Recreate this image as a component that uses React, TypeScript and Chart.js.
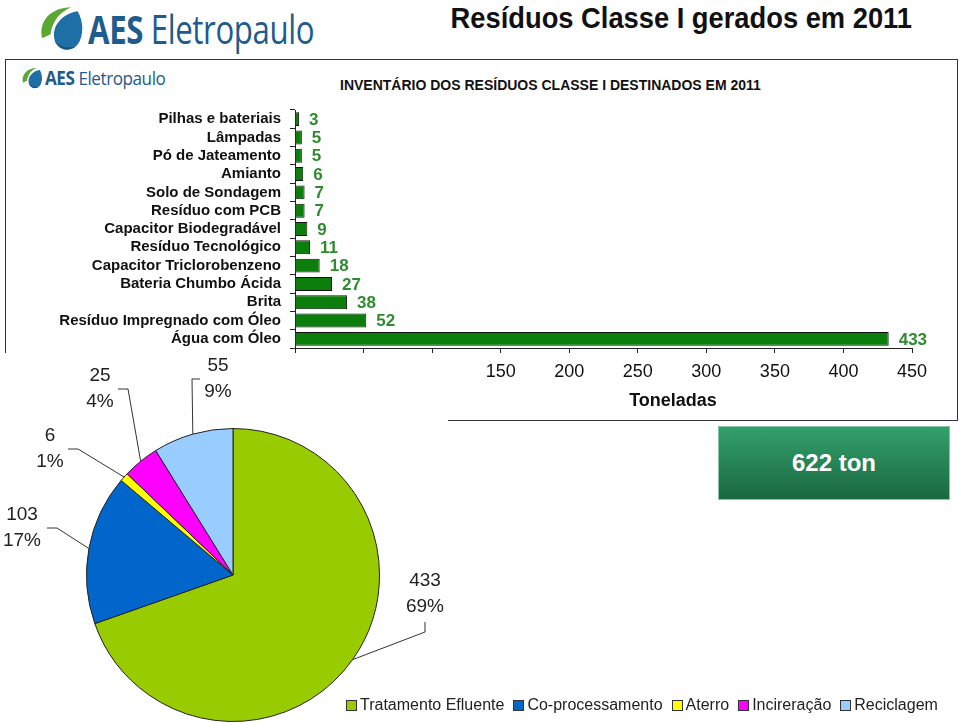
import React, { useEffect, useRef } from "react";
import { Chart, registerables } from "chart.js";

Chart.register(...registerables);

// ---------- data ----------
const wasteCategories = [
  "Pilhas e bateriais",
  "Lâmpadas",
  "Pó de Jateamento",
  "Amianto",
  "Solo de Sondagem",
  "Resíduo com PCB",
  "Capacitor Biodegradável",
  "Resíduo Tecnológico",
  "Capacitor Triclorobenzeno",
  "Bateria Chumbo Ácida",
  "Brita",
  "Resíduo Impregnado com Óleo",
  "Água com Óleo",
];
const wasteTons = [3, 5, 5, 6, 7, 7, 9, 11, 18, 27, 38, 52, 433];
const axisMax = 450;
const axisStep = 50;

const destinations = ["Tratamento Efluente", "Co-processamento", "Aterro", "Incireração", "Reciclagem"];
const destinationTons = [433, 103, 6, 25, 55];
const destinationShares = ["69%", "17%", "1%", "4%", "9%"];
const destinationColors = ["#99cc00", "#0066cc", "#ffff00", "#ff00ff", "#99ccff"];

const pageTitle = "Resíduos Classe I gerados em 2011";
const boxTitle = "INVENTÁRIO DOS RESÍDUOS CLASSE I DESTINADOS EM 2011";
const axisTitle = "Toneladas";
const totalLabel = "622 ton";
const brandBold = "AES";
const brandName = "Eletropaulo";

// ---------- styling ----------
const FONT = "'Liberation Sans', Arial, Helvetica, sans-serif";
const LOGO_FONT = "'Open Sans', 'Noto Sans', sans-serif";
const BAR_GREEN = "#0b7e0b";
const LABEL_GREEN = "#2e8b2e";

const pieLabelLayout = [
  { elbow: [192, 57], end: [192, 47], text: [192, 19] },
  { elbow: [-176, -47], end: [-186, -47], text: [-211, -47] },
  { elbow: [-155, -126], end: [-165, -126], text: [-183, -126] },
  { elbow: [-105, -186], end: [-115, -186], text: [-133, -186] },
  { elbow: [-41, -196], end: [-33, -196], text: [-15, -196] },
];

const barValueLabels = {
  id: "barValueLabels",
  afterDatasetsDraw(chart: any) {
    const { ctx } = chart;
    const meta = chart.getDatasetMeta(0);
    const values = chart.data.datasets[0].data;
    ctx.save();
    ctx.font = `bold 17px ${FONT}`;
    ctx.fillStyle = LABEL_GREEN;
    ctx.textAlign = "left";
    ctx.textBaseline = "middle";
    meta.data.forEach((bar: any, i: number) => {
      ctx.fillText(String(values[i]), bar.x + 10, bar.y + 1);
    });
    ctx.restore();
  },
};

const pieCallouts = {
  id: "pieCallouts",
  afterDatasetsDraw(chart: any) {
    const { ctx } = chart;
    const meta = chart.getDatasetMeta(0);
    const values = chart.data.datasets[0].data;
    ctx.save();
    meta.data.forEach((arc: any, i: number) => {
      const p = arc.getProps(["x", "y", "startAngle", "endAngle", "outerRadius"], true);
      const mid = (p.startAngle + p.endAngle) / 2;
      const sx = p.x + Math.cos(mid) * p.outerRadius;
      const sy = p.y + Math.sin(mid) * p.outerRadius;
      const L = pieLabelLayout[i];
      ctx.strokeStyle = "#333";
      ctx.lineWidth = 1;
      ctx.beginPath();
      ctx.moveTo(sx, sy);
      ctx.lineTo(p.x + L.elbow[0], p.y + L.elbow[1]);
      ctx.lineTo(p.x + L.end[0], p.y + L.end[1]);
      ctx.stroke();
      ctx.font = `19px ${FONT}`;
      ctx.fillStyle = "#222";
      ctx.textAlign = "center";
      ctx.textBaseline = "middle";
      ctx.fillText(String(values[i]), p.x + L.text[0], p.y + L.text[1] - 13);
      ctx.fillText(destinationShares[i], p.x + L.text[0], p.y + L.text[1] + 13);
    });
    ctx.restore();
  },
};

function Logo({ size, scale }: { size: number; scale: number }) {
  const icon = size * 1.3;
  return (
    <div style={{ display: "flex", alignItems: "center" }}>
      <svg width={icon} height={icon} viewBox="0 0 50 50" style={{ display: "block" }}>
        <path d="M6 34 C2 18 14 4 34 4 C24 8 16 16 14 30 Z" fill="#5aa832" />
        <path d="M40 8 C26 10 14 22 18 36 C21 46 34 48 40 40 C46 32 46 18 40 8 Z" fill="#1d6fa5" />
        <path d="M18 36 C22 44 30 47 38 42 C30 44 22 42 18 36 Z" fill="#15527a" />
      </svg>
      <div
        style={{
          fontFamily: LOGO_FONT,
          fontSize: size,
          color: "#1f5b8c",
          whiteSpace: "nowrap",
          transform: `scaleX(${scale})`,
          transformOrigin: "left center",
          lineHeight: 1,
          letterSpacing: -0.5,
        }}
      >
        <span style={{ fontWeight: 700 }}>{brandBold}</span>{" "}
        <span style={{ fontWeight: 400 }}>{brandName}</span>
      </div>
    </div>
  );
}

export default function App() {
  const barRef = useRef<HTMLCanvasElement | null>(null);
  const pieRef = useRef<HTMLCanvasElement | null>(null);

  useEffect(() => {
    const bar = new Chart(barRef.current as HTMLCanvasElement, {
      type: "bar",
      data: {
        labels: wasteCategories,
        datasets: [
          {
            data: wasteTons,
            backgroundColor: BAR_GREEN,
            borderColor: "#111",
            borderWidth: 1,
            barPercentage: 0.76,
            categoryPercentage: 1,
          },
        ],
      },
      options: {
        indexAxis: "y",
        animation: false,
        responsive: false,
        maintainAspectRatio: false,
        devicePixelRatio: 1,
        layout: { padding: { left: 0, right: 48, top: 9, bottom: 0 } },
        plugins: { legend: { display: false }, tooltip: { enabled: false } },
        scales: {
          x: {
            min: 0,
            max: axisMax,
            ticks: { stepSize: axisStep, color: "#111", font: { family: FONT, size: 18 }, padding: 8 },
            grid: { drawOnChartArea: false, drawTicks: true, tickLength: 5, color: "#222" },
            border: { color: "#222", width: 1 },
            afterFit: (s: any) => {
              s.height = 72;
            },
          },
          y: {
            ticks: {
              color: "#111",
              font: { family: FONT, size: 15, weight: "bold" },
              padding: 9,
              autoSkip: false,
            },
            grid: { drawOnChartArea: false, drawTicks: true, tickLength: 5, color: "#222", offset: true },
            border: { color: "#222", width: 1 },
            afterFit: (s: any) => {
              s.width = 295;
            },
          },
        },
      } as any,
      plugins: [barValueLabels],
    });

    const pie = new Chart(pieRef.current as HTMLCanvasElement, {
      type: "pie",
      data: {
        labels: destinations,
        datasets: [
          {
            data: destinationTons,
            backgroundColor: destinationColors,
            borderColor: "#222",
            borderWidth: 1,
          },
        ],
      },
      options: {
        animation: false,
        responsive: false,
        maintainAspectRatio: false,
        devicePixelRatio: 1,
        layout: { padding: { left: 0, right: 0, top: 75, bottom: 1 } },
        plugins: { legend: { display: false }, tooltip: { enabled: false } },
      } as any,
      plugins: [pieCallouts],
    });

    return () => {
      bar.destroy();
      pie.destroy();
    };
  }, []);

  return (
    <div
      style={{
        position: "absolute",
        left: 0,
        top: 0,
        width: 960,
        height: 723,
        overflow: "hidden",
        background: "#fff",
        fontFamily: FONT,
      }}
    >
      {/* top logo */}
      <div style={{ position: "absolute", left: 36, top: 3 }}>
        <Logo size={40} scale={0.78} />
      </div>

      {/* title */}
      <div
        style={{
          position: "absolute",
          right: 48,
          top: 3,
          fontSize: 30,
          lineHeight: 1,
          fontWeight: 700,
          color: "#111",
          whiteSpace: "nowrap",
          transform: "scaleX(0.91)",
          transformOrigin: "right center",
        }}
      >
        {pageTitle}
      </div>

      {/* bar chart box */}
      <div
        style={{
          position: "absolute",
          left: 5,
          top: 59,
          width: 951,
          height: 360,
          border: "1.5px solid #333",
          background: "#fff",
        }}
      />
      <div style={{ position: "absolute", left: 20, top: 66 }}>
        <Logo size={19} scale={0.9} />
      </div>
      <div
        style={{
          position: "absolute",
          left: 340,
          top: 78,
          fontSize: 14,
          lineHeight: 1,
          fontWeight: 700,
          color: "#111",
          whiteSpace: "nowrap",
        }}
      >
        {boxTitle}
      </div>
      <canvas
        ref={barRef}
        width={960}
        height={328}
        style={{ position: "absolute", left: 0, top: 92, width: 960, height: 328 }}
      />
      <div
        style={{
          position: "absolute",
          left: 623,
          top: 391,
          width: 100,
          textAlign: "center",
          fontSize: 18,
          lineHeight: 1,
          fontWeight: 700,
          color: "#111",
        }}
      >
        {axisTitle}
      </div>

      {/* pie area */}
      <div style={{ position: "absolute", left: 0, top: 353, width: 448, height: 370, background: "#fff" }} />
      <canvas
        ref={pieRef}
        width={466}
        height={370}
        style={{ position: "absolute", left: 0, top: 353, width: 466, height: 370 }}
      />
      <div
        style={{
          position: "absolute",
          left: 346,
          top: 697,
          display: "flex",
          alignItems: "center",
          fontSize: 16,
          lineHeight: 1,
          color: "#222",
          whiteSpace: "nowrap",
        }}
      >
        {destinations.map((name, i) => (
          <div key={name} style={{ display: "flex", alignItems: "center", marginRight: 9 }}>
            <span
              style={{
                display: "inline-block",
                width: 9,
                height: 9,
                background: destinationColors[i],
                border: "1px solid #333",
                marginRight: 3,
              }}
            />
            <span>{name}</span>
          </div>
        ))}
      </div>

      {/* total box */}
      <div
        style={{
          position: "absolute",
          left: 718,
          top: 426,
          width: 230,
          height: 72,
          border: "1px solid #8cc3a4",
          background: "linear-gradient(#33a06b, #1a6840)",
          color: "#fff",
          fontSize: 24,
          fontWeight: 700,
          display: "flex",
          alignItems: "center",
          justifyContent: "center",
        }}
      >
        {totalLabel}
      </div>
    </div>
  );
}
